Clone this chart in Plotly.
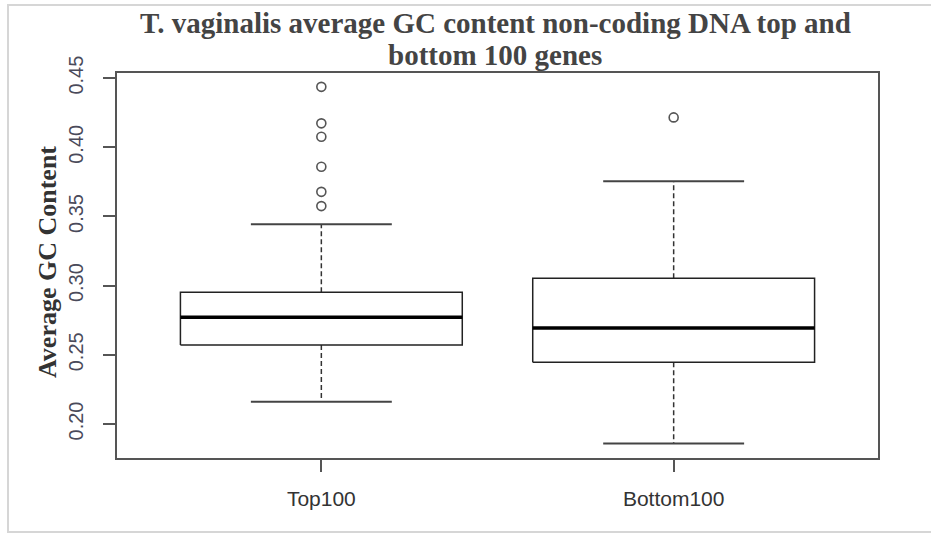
import plotly.graph_objects as go

# ---- data ----
categories = ["Top100", "Bottom100"]
lower_whisker = [0.2161, 0.1858]
q1 = [0.2571, 0.2446]
median = [0.2771, 0.2694]
q3 = [0.2952, 0.3053]
upper_whisker = [0.3443, 0.3754]
outliers_top100 = [0.4437, 0.4173, 0.4076, 0.3859, 0.3678, 0.3575]
outliers_bottom100 = [0.4216]
outliers = [outliers_top100, outliers_bottom100]
y_ticks = [0.20, 0.25, 0.30, 0.35, 0.40, 0.45]
y_tick_labels = ["0.20", "0.25", "0.30", "0.35", "0.40", "0.45"]

BOX_HALF = 0.4
CAP_HALF = 0.2

fig = go.Figure()
for i, name in enumerate(categories):
    xc = i + 1
    # dashed whiskers
    fig.add_trace(go.Scatter(
        x=[xc, xc, None, xc, xc],
        y=[q3[i], upper_whisker[i], None, q1[i], lower_whisker[i]],
        mode="lines", line=dict(color="#333333", width=1.5, dash="5px,3px"),
        hoverinfo="skip", showlegend=False))
    # caps
    fig.add_trace(go.Scatter(
        x=[xc - CAP_HALF, xc + CAP_HALF, None, xc - CAP_HALF, xc + CAP_HALF],
        y=[upper_whisker[i], upper_whisker[i], None, lower_whisker[i], lower_whisker[i]],
        mode="lines", line=dict(color="#444444", width=2),
        hoverinfo="skip", showlegend=False))
    # box
    fig.add_trace(go.Scatter(
        x=[xc - BOX_HALF, xc + BOX_HALF, xc + BOX_HALF, xc - BOX_HALF, xc - BOX_HALF],
        y=[q1[i], q1[i], q3[i], q3[i], q1[i]],
        mode="lines", line=dict(color="#222222", width=1.5),
        fill="toself", fillcolor="white",
        hoverinfo="skip", showlegend=False))
    # median
    fig.add_trace(go.Scatter(
        x=[xc - BOX_HALF, xc + BOX_HALF],
        y=[median[i], median[i]],
        mode="lines", line=dict(color="black", width=3.5),
        hoverinfo="skip", showlegend=False))
    # outliers
    fig.add_trace(go.Scatter(
        x=[xc] * len(outliers[i]), y=outliers[i],
        mode="markers",
        marker=dict(symbol="circle-open", size=9, color="#555555", line=dict(width=1.6)),
        hoverinfo="skip", showlegend=False))

L, T, R, B = 117, 73, 878, 458
W, H = 931, 535
pw, ph = R - L, B - T

def px_x(x):
    return (x - L) / pw

def px_y(y):
    return (B - y) / ph

fig.update_layout(
    width=W, height=H,
    margin=dict(l=L, r=W - R, t=T, b=H - B),
    paper_bgcolor="white", plot_bgcolor="white",
    showlegend=False,
    xaxis=dict(
        range=[0.42, 2.58], tickvals=[1, 2], ticktext=categories,
        showgrid=False, zeroline=False,
        showline=True, linecolor="#555555", linewidth=2, mirror=True,
        ticks="outside", ticklen=12, tickwidth=1.5, tickcolor="#555555",
        tickfont=dict(family="Liberation Sans, Arial, sans-serif", size=21, color="#333333"),
        ticklabelstandoff=9,
    ),
    yaxis=dict(
        range=[0.1754, 0.4537], tickvals=y_ticks, ticktext=y_tick_labels,
        tickangle=-90,
        showgrid=False, zeroline=False,
        showline=True, linecolor="#555555", linewidth=2, mirror=True,
        ticks="outside", ticklen=12, tickwidth=1.5, tickcolor="#555555",
        tickfont=dict(family="Liberation Sans, Arial, sans-serif", size=20, color="#4a4a5a"),
        ticklabelstandoff=12,
    ),
    annotations=[
        dict(text="<b>T. vaginalis average GC content non-coding DNA top and</b>",
             xref="paper", yref="paper", x=px_x(495), y=px_y(41), xanchor="center", yanchor="bottom",
             showarrow=False, font=dict(family="Liberation Serif, Times New Roman, serif", size=29, color="#444444")),
        dict(text="<b>bottom 100 genes</b>",
             xref="paper", yref="paper", x=px_x(495), y=px_y(73), xanchor="center", yanchor="bottom",
             showarrow=False, font=dict(family="Liberation Serif, Times New Roman, serif", size=29, color="#444444")),
        dict(text="<b>Average GC Content</b>", textangle=-90,
             xref="paper", yref="paper", x=px_x(47), y=px_y(262), xanchor="center", yanchor="middle",
             showarrow=False, font=dict(family="Liberation Serif, Times New Roman, serif", size=26, color="#333333")),
    ],
    shapes=[
        dict(type="rect", xref="paper", yref="paper", layer="below",
             x0=px_x(8), x1=px_x(940), y0=px_y(532), y1=px_y(5),
             line=dict(color="#d6d6d6", width=2), fillcolor="rgba(0,0,0,0)"),
    ],
)

fig.write_html("out.html")
